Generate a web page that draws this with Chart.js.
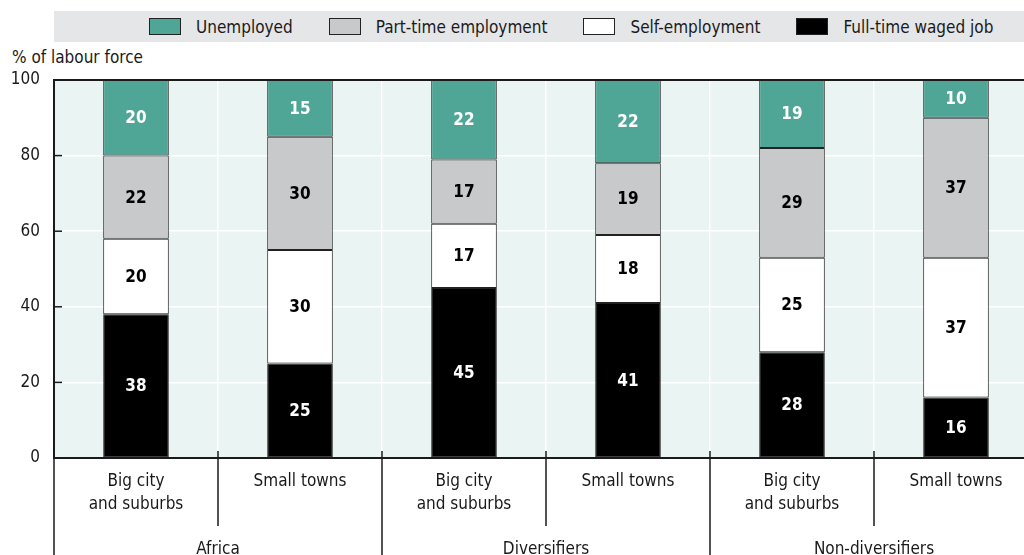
<!DOCTYPE html>
<html lang="en">
<head>
<meta charset="UTF-8">
<title>Labour force status by location</title>
<script src="https://cdn.jsdelivr.net/npm/chart.js"></script>
<style>
  body { margin: 0; background: #fff; font-family: 'DejaVu Sans Condensed', 'DejaVu Sans', sans-serif; color: #1a1a1a; }
  .wrap { position: relative; width: 1024px; height: 555px; overflow: hidden; }
  .legend { position: absolute; left: 54px; top: 11px; width: 1000px; height: 31px; background: #e5e6e8;
            display: flex; align-items: center; padding-left: 95px; box-sizing: border-box; font-size: 17px; }
  .legend .item { display: flex; align-items: center; margin-right: 36px; white-space: nowrap; }
  .legend .swatch { width: 30px; height: 15px; border: 1px solid #222; margin-right: 15px; }
  .ytitle { position: absolute; left: 12px; top: 49px; font-size: 17px; line-height: 17px; }
  canvas { position: absolute; left: 0; top: 0; }
</style>
</head>
<body>
<div class="wrap">
  <div class="legend" id="legend"></div>
  <div class="ytitle">% of labour force</div>
  <canvas id="chart" width="1040" height="580"></canvas>
</div>
<script>
// categories
const subLabels = [['Big city', 'and suburbs'], 'Small towns', ['Big city', 'and suburbs'], 'Small towns', ['Big city', 'and suburbs'], 'Small towns'];
const groupLabels = ['Africa', 'Diversifiers', 'Non-diversifiers'];
const yTicks = [0, 20, 40, 60, 80, 100];

// shares of the labour force, %
const fullTime   = [38, 25, 45, 41, 28, 16];
const selfEmp    = [20, 30, 17, 18, 25, 37];
const partTime   = [22, 30, 17, 19, 29, 37];
const unemployed = [20, 15, 22, 22, 19, 10];

const FONT = "'DejaVu Sans Condensed', 'DejaVu Sans', sans-serif";
const INK = '#1a1a1a';

// stacked bottom to top
const series = [
  { label: 'Full-time waged job', data: fullTime,   fill: '#000000', text: '#ffffff' },
  { label: 'Self-employment',     data: selfEmp,    fill: '#ffffff', text: '#000000' },
  { label: 'Part-time employment', data: partTime,  fill: '#c8c9cb', text: '#000000' },
  { label: 'Unemployed',          data: unemployed, fill: '#4fa696', text: '#ffffff' }
];

// legend, top series first
const legendEl = document.getElementById('legend');
series.slice().reverse().forEach(s => {
  const item = document.createElement('div');
  item.className = 'item';
  item.innerHTML = '<span class="swatch" style="background:' + s.fill + '"></span><span>' + s.label + '</span>';
  legendEl.appendChild(item);
});

// plot background, top frame, inner y ticks and category separators
const frame = {
  id: 'frame',
  beforeDraw(chart) {
    const { ctx, chartArea: a } = chart;
    ctx.save();
    ctx.fillStyle = '#eaf4f2';
    ctx.fillRect(a.left, a.top, a.right - a.left, a.bottom - a.top);
    ctx.restore();
  },
  afterDraw(chart) {
    const { ctx, chartArea: a, scales } = chart;
    ctx.save();
    ctx.strokeStyle = INK;
    ctx.lineWidth = 2;
    ctx.beginPath();
    ctx.moveTo(a.left - 1, a.top);
    ctx.lineTo(a.right, a.top);
    ctx.stroke();

    ctx.lineWidth = 1.5;
    yTicks.slice(1, -1).forEach(v => {
      const y = scales.y.getPixelForValue(v);
      ctx.beginPath();
      ctx.moveTo(a.left, y);
      ctx.lineTo(a.left + 8, y);
      ctx.stroke();
    });

    for (let i = 0; i <= subLabels.length; i++) {
      const x = scales.x.getPixelForValue(i - 0.5);
      const bottom = i % 2 === 0 ? chart.height : a.bottom + 68;
      ctx.beginPath();
      ctx.moveTo(x, a.bottom - 7);
      ctx.lineTo(x, bottom);
      ctx.stroke();
    }
    ctx.restore();
  }
};

// value labels in the middle of each segment
const segmentLabels = {
  id: 'segmentLabels',
  afterDatasetsDraw(chart) {
    const { ctx, chartArea: a } = chart;
    ctx.save();
    ctx.font = 'bold 17px ' + FONT;
    ctx.textAlign = 'center';
    ctx.textBaseline = 'middle';
    chart.data.datasets.forEach((ds, di) => {
      chart.getDatasetMeta(di).data.forEach((bar, i) => {
        const top = Math.max(bar.y, a.top);
        ctx.fillStyle = series[di].text;
        ctx.fillText(String(ds.data[i]), bar.x, (top + bar.base) / 2 + 1);
      });
    });
    ctx.restore();
  }
};

new Chart(document.getElementById('chart'), {
  type: 'bar',
  data: {
    labels: subLabels,
    datasets: series.map(s => ({
      label: s.label,
      data: s.data,
      backgroundColor: s.fill,
      borderColor: '#222222',
      borderWidth: 1,
      borderSkipped: false,
      categoryPercentage: 1,
      barPercentage: 0.4
    }))
  },
  options: {
    responsive: false,
    animation: false,
    layout: { autoPadding: false, padding: { top: 80, left: 0, right: 2, bottom: 0 } },
    plugins: { legend: { display: false }, tooltip: { enabled: false } },
    scales: {
      x: {
        stacked: true,
        offset: true,
        grid: { offset: true, color: '#ffffff', lineWidth: 1.5, drawTicks: false },
        border: { color: INK, width: 2 },
        ticks: { color: INK, font: { family: FONT, size: 17, lineHeight: 1.3 }, padding: 13, maxRotation: 0, autoSkip: false },
        afterFit(s) { s.height = 60; }
      },
      x2: {
        type: 'category',
        labels: groupLabels,
        position: 'bottom',
        offset: true,
        grid: { display: false },
        border: { display: false },
        ticks: { color: INK, font: { family: FONT, size: 17 }, padding: 13, maxRotation: 0 },
        afterFit(s) { s.height = 62; }
      },
      y: {
        stacked: true,
        min: 0,
        max: 100,
        afterBuildTicks(s) { s.ticks = yTicks.map(v => ({ value: v })); },
        grid: { color: '#ffffff', lineWidth: 1.5, drawTicks: false },
        border: { color: INK, width: 2 },
        ticks: { color: INK, font: { family: FONT, size: 17 }, padding: 14 },
        afterFit(s) { s.width = 54; }
      }
    }
  },
  plugins: [frame, segmentLabels]
});
</script>
</body>
</html>
